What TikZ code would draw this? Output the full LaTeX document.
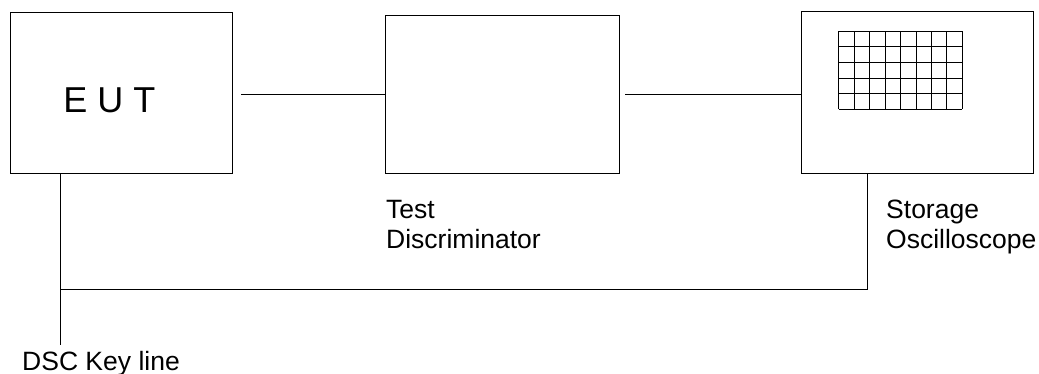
\documentclass[tikz,border=0pt]{standalone}
\usepackage{fontspec}
\setmainfont{Liberation Sans}
\begin{document}
\begin{tikzpicture}[x=1pt,y=-1pt,
  box/.style={draw=black, line width=0.9pt, inner sep=0pt, rectangle},
  wire/.style={draw=black, line width=0.9pt},
  lbl/.style={inner sep=0pt, align=left, font=\fontsize{26.5}{31}\selectfont}]
\useasboundingbox (0,0) rectangle (1039,374);
\node[box, minimum width=222.5pt, minimum height=161pt] (eut) at (121.25,92.5) {};
\node[inner sep=0pt, anchor=base, font=\fontsize{36}{40}\selectfont] (eutlbl) at (109.5,112.7) {E U T};
\node[box, minimum width=234pt, minimum height=157.6pt] (mid) at (502,94.5) {};
\node[box, minimum width=232pt, minimum height=161.3pt] (scope) at (917,92.35) {};
% screen grid
\foreach \i in {0,...,8}{\draw[line width=0.8pt] ({838.7+\i*15.45},31.3) -- ({838.7+\i*15.45},109);}
\foreach \j in {0,...,5}{\draw[line width=0.8pt] (838.7,{31.3+\j*15.54}) -- (962.3,{31.3+\j*15.54});}
% connectors
\draw[wire] ([xshift=8.5pt]eut.east |- mid.west) -- (mid.west);
\draw[wire] ([xshift=6pt]mid.east) -- (mid.east -| scope.west);
\coordinate (key) at (60.5,345);
\coordinate (j1) at (60.5,289);
\coordinate (j2) at (867,289);
\draw[wire] (eut.south -| key) -- (key);
\draw[wire] (j1) -- (j2) -- (j2 |- scope.south);
% labels
\node[lbl, anchor=base west] (tdlbl) at (386,249) {Test\\Discriminator};
\node[lbl, anchor=base west] (sclbl) at (886,249) {Storage\\Oscilloscope};
\node[lbl, anchor=base west] (keylbl) at (22,370) {DSC Key line};
\end{tikzpicture}
\end{document}
